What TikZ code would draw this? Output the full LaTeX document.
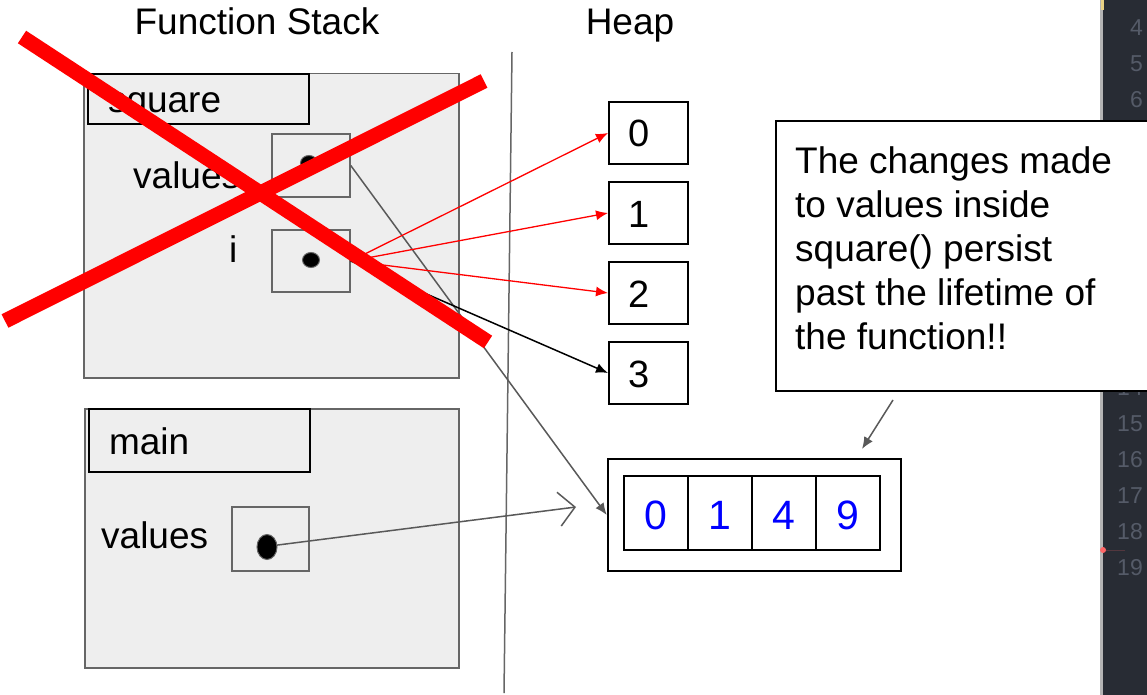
\documentclass[tikz,border=0pt]{standalone}
\usepackage{fontspec}
\setmainfont{Liberation Sans}
\usepackage{xcolor}
\usetikzlibrary{positioning,arrows.meta,calc,shapes.geometric}

\definecolor{framefill}{HTML}{EEEEEE}
\definecolor{framedraw}{HTML}{666666}
\definecolor{linkgray}{HTML}{595959}
\definecolor{editorbg}{HTML}{282C34}
\definecolor{gutternum}{HTML}{555B68}
\definecolor{gutteredge}{HTML}{B4B4B4}
\definecolor{cellblue}{HTML}{0000FF}

\begin{document}
\begin{tikzpicture}[x=1pt, y=-1pt,
  every node/.style={font=\fontsize{37}{43}\selectfont},
  frame/.style={draw=framedraw, fill=framefill, line width=1.5pt,
                anchor=north west, inner sep=0pt},
  titlebox/.style={draw=black, line width=2pt, anchor=north west,
                   minimum width=221pt, inner xsep=20pt, inner ysep=0pt,
                   text width=181pt, align=left, text height=28pt, text depth=0pt},
  valbox/.style={draw=framedraw, line width=1.5pt, minimum width=78pt,
                 minimum height=63pt, inner sep=0pt},
  ptr/.style={ellipse, draw=framedraw, fill=black, line width=1pt, inner sep=0pt},
  lbl/.style={anchor=base west, inner sep=0pt},
  heapcell/.style={draw=black, line width=2pt, fill=white, minimum width=79pt,
                   minimum height=62pt, inner xsep=19pt, inner ysep=0pt,
                   text width=41pt, align=left, text height=28pt, text depth=0pt,
                   font=\fontsize{38}{44}\selectfont},
  arrcell/.style={draw=black, line width=2pt, minimum width=64pt, minimum height=74pt,
                  inner sep=0pt, text height=32pt, text depth=0pt, text=cellblue,
                  font=\fontsize{41}{48}\selectfont},
  link/.style={draw=linkgray, line width=1.5pt, -{Latex[length=12pt,width=10pt]}},
  gutter/.style={anchor=east, inner sep=0pt, text=gutternum,
                 font=\fontsize{23}{26}\selectfont}]

  \path[use as bounding box, fill=white] (0,0) rectangle (1147,695);
  \clip (0,0) rectangle (1147,695);

  % editor gutter on the right
  \fill[editorbg] (1100,0) rectangle (1147,695);
  \fill[gutteredge] (1100,0) rectangle (1103,695);
  \fill[yellow!40!brown!60] (1101,0) rectangle (1104,10);
  \foreach \n in {3,...,19}
    \node[gutter] (ln\n) at (1143, 28+36*\n-144) {\n};
  \draw[red!60, opacity=0.2, line width=1pt] (1103,550) -- (1125,550);
  \fill[red!60!white] (1103,550) circle (3);

  \node[anchor=base] (stacktitle) at (257,35) {Function Stack};
  \node[anchor=base] (heaptitle) at (630,35) {Heap};

  \coordinate (divtop) at (512,52);
  \coordinate (divbot) at (504,693);
  \draw[framedraw, line width=1.5pt] (divtop) -- (divbot);

  % square() frame
  \node[frame, minimum width=375pt, minimum height=304pt] (sqframe) at (83,73) {};
  \node[titlebox, minimum height=50pt] (sqtitle) at (87,73) {square};
  \node[lbl] (sqvalname) at (133,188) {values};
  \node[valbox] (sqval) at (311,165.5) {};
  \node[ptr, minimum width=17pt, minimum height=15pt] (sqdot) at (309,163) {};
  \node[lbl] (iname) at (229,262) {i};
  \node[valbox, minimum height=62pt] (ibox) at (311,261) {};
  \node[ptr, minimum width=17pt, minimum height=15pt] (idot) at (311,260) {};

  % main() frame
  \node[frame, minimum width=374pt, minimum height=259pt] (mainframe) at (84,408) {};
  \node[titlebox, minimum height=63pt] (maintitle) at (88,408) {main};
  \node[lbl] (mvalname) at (101,548) {values};
  \node[valbox, minimum width=77pt, minimum height=64pt] (mval) at (270.5,539) {};

  % heap cells
  \foreach \v in {0,1,2,3}
    \node[heapcell] (h\v) at (648.5, 133+80*\v) {\v};

  \node[draw=black, line width=2.5pt, minimum width=293pt, minimum height=112pt,
        inner sep=0pt] (arr) at (754.5,515) {};
  \foreach \v [count=\k from 0] in {0,1,4,9}
    \node[arrcell] (c\k) at (656+64*\k, 513) {\v};

  % pointers
  \draw[link] (sqval.east) -- (arr.west);
  \draw[link, draw=red, line width=1.3pt] (ibox.east) -- (h0.west);
  \draw[link, draw=red, line width=1.3pt] (ibox.east) -- (h1.west);
  \draw[link, draw=red, line width=1.3pt] (ibox.east) -- (h2.west);
  \draw[link, draw=black, line width=1.5pt] (ibox.east) -- (h3.west);

  \coordinate (mainend) at (576,507);
  \draw[draw=linkgray, line width=1.5pt, -{Straight Barb[length=16pt,width=34pt]}]
    (270,546) -- (mainend);
  \node[ptr, minimum width=20pt, minimum height=25pt] (mdot) at (267,547) {};

  % note
  \node[draw=black, line width=2pt, fill=white, anchor=north west, minimum width=420pt,
        minimum height=270pt, inner sep=0pt] (note) at (775,120) {};
  \node[anchor=north west, align=left, inner sep=0pt,
        font=\fontsize{37}{44}\selectfont] (notetext) at (795,146)
    {The changes made\\to values inside\\square() persist\\past the lifetime of\\the function!!};
  \coordinate (notetail) at (893,400);
  \coordinate (notehead) at (862,449);
  \draw[link] (notetail) -- (notehead);

  % crossed out
  \draw[red, line width=15pt] (22,37) -- (488,342);
  \draw[red, line width=15pt] (5,321) -- (484,81);
\end{tikzpicture}
\end{document}
